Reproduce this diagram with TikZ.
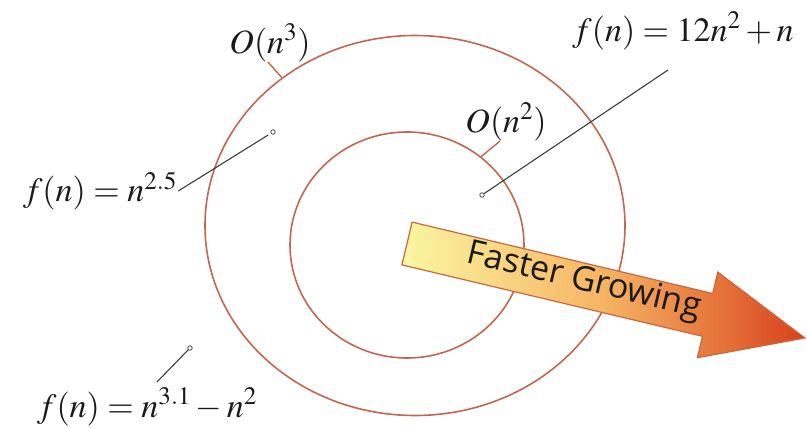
\documentclass[tikz,border=0pt]{standalone}
\usepackage[no-math]{fontspec}
\usepackage{mathptmx}
\newfontfamily\arrowfont{Open Sans}
\usepackage{xcolor}
\definecolor{ink}{HTML}{1A1A1A}
\definecolor{ring}{HTML}{C4664E}
\definecolor{arrowedge}{HTML}{C8683E}
\definecolor{arrowlow}{HTML}{FBF6A2}
\definecolor{arrowmid}{HTML}{F6B464}
\definecolor{arrowhigh}{HTML}{D9421C}
\usepackage{tikz}
\usetikzlibrary{shapes.geometric, positioning}
\tikzset{
  bound/.style={ellipse, draw=ring, line width=1.6pt, inner sep=0pt},
  lbl/.style={font=\fontsize{34}{40}\selectfont, text=ink, inner sep=1pt},
  leader/.style={draw=ink!85, line width=1.1pt},
  dot/.style={circle, draw=ink!80, fill=white, line width=0.8pt, inner sep=0pt, minimum size=4.5pt},
  growth/.style={draw=arrowedge, line width=1.2pt, line join=miter,
    left color=arrowlow, right color=arrowhigh, middle color=arrowmid},
}

\begin{document}
\begin{tikzpicture}[x=1pt, y=-1pt]
  \useasboundingbox (0,0) rectangle (807,428);

  % the two bounds
  \node[bound, minimum width=420pt, minimum height=380pt] (outer) at (415,225.5) {};
  \node[bound, minimum width=234pt, minimum height=226pt] (inner) at (407,245) {};

  \node[lbl] (Othree) at (270,43) {$O(n^3)$};
  \node[lbl] (Otwo) at (506,122) {$O(n^2)$};
  \draw[draw=ring, line width=1.4pt] (Othree.south) ++(-2pt,1pt) -- (outer.132.6);
  \draw[draw=ring, line width=1.4pt] (Otwo.south) ++(-6pt,1pt) -- (inner.50);

  % sample functions
  \node[lbl] (fquad) at (683,31) {$f(n) = 12n^2 + n$};
  \node[lbl] (fmid) at (100,191) {$f(n) = n^{2.5}$};
  \node[lbl] (fcube) at (147,407) {$f(n) = n^{3.1} - n^2$};

  \node[dot] (dquad) at (482,195) {};
  \node[dot] (dmid) at (273,132) {};
  \node[dot] (dcube) at (190,348) {};

  \coordinate (tquad) at (668,70);
  \coordinate (tcube) at (157,382);

  \draw[leader] (tquad) -- (dquad);
  \draw[leader, shorten >=3pt] (fmid.east) -- (dmid);
  \draw[leader] (tcube) -- (dcube);

  % growth arrow
  \shade[growth] (412.1,222.1) -- (712.7,293.5) -- (717.8,272.1) -- (804.9,338.0)
    -- (697.4,357.7) -- (702.5,336.3) -- (401.9,264.9) -- cycle;
  \node[font=\arrowfont\fontsize{34}{40}\selectfont, text=ink, rotate=-13.36] (fastlbl) at (584,282) {Faster Growing};
\end{tikzpicture}
\end{document}
